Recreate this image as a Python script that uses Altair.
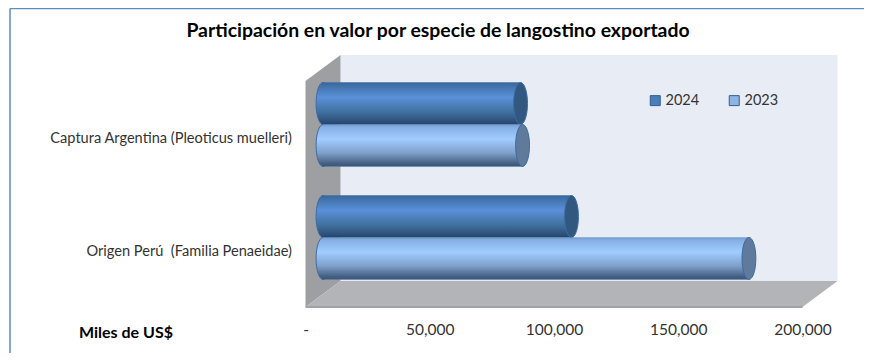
import altair as alt
import pandas as pd

# --- chart values -----------------------------------------------------------
categories = ["Captura Argentina (Pleoticus muelleri)", "Origen Perú \u00a0(Familia Penaeidae)"]
series = ["2024", "2023"]
values_2024 = [79500, 100000]
values_2023 = [80300, 171400]
x_ticks = [0, 50000, 100000, 150000, 200000]
title_text = "Participación en valor por especie de langostino exportado"

rows = []
for c, a, b in zip(categories, values_2024, values_2023):
    rows.append({"cat": c, "year": "2024", "v": a})
    rows.append({"cat": c, "year": "2023", "v": b})
df = pd.DataFrame(rows)

# --- pseudo-3D depth of the box, in scale units ------------------------------
MAX = 200000
DX = 7042
DY = 0.0575
back = pd.DataFrame([{"x": DX, "x2": MAX + DX, "y": DY, "y2": 1 + DY}])
left = pd.DataFrame([
    {"x": -DX, "y": -DY, "y2": 1 - DY},
    {"x": DX, "y": DY, "y2": 1 + DY},
])
floor = pd.DataFrame([
    {"y": -DY, "x": -DX, "x2": MAX - DX},
    {"y": DY, "x": DX, "x2": MAX + DX},
])

FONT = "Lato"
xs = alt.Scale(domain=[0, MAX], nice=False, zero=False)
ys = alt.Scale(domain=categories, paddingInner=0.257, paddingOuter=0.1285)
yo = alt.Scale(domain=series, paddingInner=0, paddingOuter=0)
depth = alt.Scale(domain=[0, 1], nice=False, zero=False)


def grad(stops):
    return alt.LinearGradient(
        gradient="linear", x1=0, x2=0, y1=0, y2=1,
        stops=[alt.GradientStop(offset=o, color=c) for o, c in stops],
    )


G = {
    "2024": grad([(0, "#3a6597"), (0.06, "#3f6fa8"), (0.35, "#5a90d8"), (0.7, "#41719f"), (0.93, "#2d4f78"), (1, "#24416a")]),
    "2023": grad([(0, "#6f97c8"), (0.06, "#86b0e4"), (0.35, "#a0ccff"), (0.68, "#7f9fc9"), (0.93, "#445f82"), (1, "#3a5578")]),
}
CAP = {"2024": "#33587f", "2023": "#5f7a9b"}
ELLIPSE = "M0,-1A0.33,1 0 1,1 0,1A0.33,1 0 1,1 0,-1Z"

x_axis = alt.Axis(
    values=x_ticks, orient="bottom", offset=13, labelOffset=-17.5,
    labelExpr="datum.value === 0 ? '-' : format(datum.value, ',')",
    labelFont=FONT, labelFontSize=15.5, labelColor="#333333", labelPadding=15,
    labelFlush=False, labelOverlap=False,
    domain=False, ticks=False, grid=False,
    title="Miles de US$", titleFont=FONT, titleFontSize=16, titleFontWeight="bold",
    titleColor="#000000", titleAnchor="start", titleAlign="left", titleBaseline="alphabetic",
    titleX=-244.5, titleY=30)

X_plain = alt.X("v:Q", scale=xs, axis=None)
Y_plain = alt.Y("cat:N", scale=ys, axis=None)
YO = alt.YOffset("year:N", scale=yo)

layers = []
layers.append(alt.Chart(back).mark_rect(color="#e8ecf5").encode(
    x=alt.X("x:Q", scale=xs, axis=x_axis), x2="x2:Q",
    y=alt.Y("y:Q", scale=depth, axis=None), y2="y2:Q"))
layers.append(alt.Chart(left).mark_area(color="#9e9fa2").encode(
    x=alt.X("x:Q", scale=xs, axis=None),
    y=alt.Y("y:Q", scale=depth, axis=None), y2="y2:Q"))
layers.append(alt.Chart(floor).mark_area(color="#b2b4b7", orient="horizontal").encode(
    y=alt.Y("y:Q", scale=depth, axis=None),
    x=alt.X("x:Q", scale=xs, axis=None), x2="x2:Q"))
layers.append(alt.Chart(floor.iloc[:1]).mark_rule(color="#a0a1a3", strokeWidth=2).encode(
    y=alt.Y("y:Q", scale=depth, axis=None),
    x=alt.X("x:Q", scale=xs, axis=None), x2="x2:Q"))

# flat bars carry the category axis and the legend; cylinders are drawn over them
layers.append(alt.Chart(df).mark_bar().encode(
    x=X_plain,
    y=alt.Y("cat:N", scale=ys, axis=alt.Axis(
        orient="left", offset=17.5, labelOffset=14.5, labelPadding=14, labelLimit=400,
        labelFont=FONT, labelFontSize=14.6, labelColor="#333333",
        domain=False, ticks=False, grid=False, title=None)),
    yOffset=YO,
    color=alt.Color("year:N", scale=alt.Scale(domain=series, range=["#4a7ebb", "#8db4e2"]),
                    legend=alt.Legend(
                        orient="none", legendX=325, legendY=25, direction="horizontal",
                        columns=2, columnPadding=27, title=None, symbolType="square",
                        symbolSize=100, symbolStrokeColor="#2f5f94", symbolStrokeWidth=1,
                        symbolOpacity=1, labelFont=FONT, labelFontSize=14.5, labelColor="#333333",
                        labelOffset=3)),
))

for yr in series:
    sub = df[df.year == yr]
    layers.append(alt.Chart(sub).mark_point(
        shape=ELLIPSE, size=1764, filled=True, opacity=1, fill=G[yr],
        stroke="#3a6ca5", strokeWidth=1).encode(
        x=alt.datum(0, scale=xs, axis=None), y=Y_plain, yOffset=YO))
    layers.append(alt.Chart(sub).mark_bar(fill=G[yr]).encode(
        x=X_plain, y=Y_plain, yOffset=YO))
    layers.append(alt.Chart(sub).mark_point(
        shape=ELLIPSE, size=1764, filled=True, opacity=1, fill=CAP[yr],
        stroke="#3a6ca5", strokeWidth=1).encode(
        x=X_plain, y=Y_plain, yOffset=YO))

# outer frame of the picture (top and left edges only) and the heading
frame = pd.DataFrame([{"label": title_text}])
layers.append(alt.Chart(frame).mark_rule(color="#5b8ac4", strokeWidth=1.5).encode(
    x=alt.value(-313), y=alt.value(-59.5), y2=alt.value(285)))
layers.append(alt.Chart(frame).mark_rule(color="#5b8ac4", strokeWidth=1.5).encode(
    x=alt.value(-313), x2=alt.value(541), y=alt.value(-59.5)))
layers.append(alt.Chart(frame).mark_text(
    font=FONT, fontSize=19.4, fontWeight="bold", color="#000000",
    align="center", baseline="alphabetic").encode(
    x=alt.value(115), y=alt.value(-31.5), text="label:N"))

chart = alt.layer(*layers).resolve_scale(y="independent").resolve_axis(x="independent").properties(
    width=497, height=226,
    padding={"left": 315, "top": 60, "right": 44, "bottom": 59},
    autosize=alt.AutoSizeParams(type="none"),
).configure_view(stroke=None)

chart.save("out.html", embed_options={"renderer": "svg", "actions": False})
